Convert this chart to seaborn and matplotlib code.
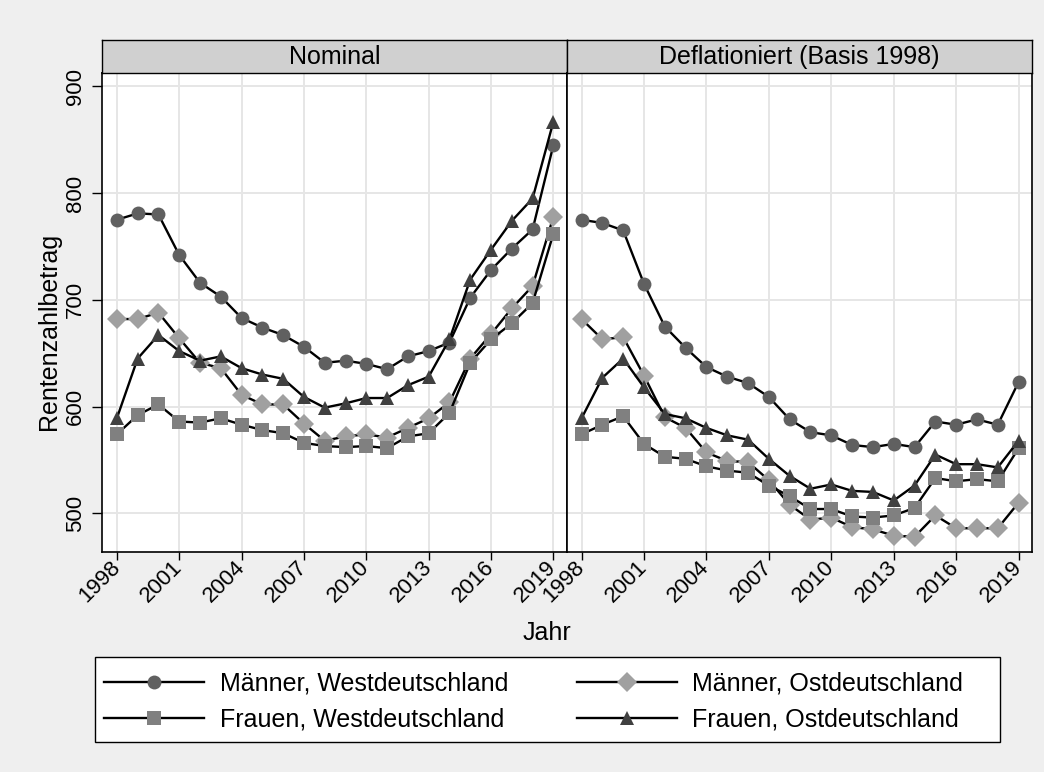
import matplotlib
matplotlib.use("Agg")
import matplotlib.pyplot as plt
import numpy as np
import pandas as pd
import seaborn as sns
from matplotlib.lines import Line2D
from matplotlib.patches import Rectangle

# ---- data -------------------------------------------------------------
years = list(range(1998, 2020))
panels = ["Nominal", "Deflationiert (Basis 1998)"]
groups = ["Männer, Westdeutschland", "Männer, Ostdeutschland",
          "Frauen, Westdeutschland", "Frauen, Ostdeutschland"]

nom_m_west = [775, 781, 780, 742, 716, 703, 683, 674, 667, 656, 641,
              643, 640, 635, 647, 652, 660, 702, 728, 748, 766, 845]
nom_m_east = [682, 682, 688, 664, 641, 636, 611, 602, 602, 584, 568,
              572, 574, 571, 580, 589, 604, 645, 668, 692, 713, 778]
nom_f_west = [574, 592, 602, 586, 585, 589, 583, 578, 575, 566, 563,
              562, 563, 561, 572, 575, 594, 641, 663, 678, 697, 762]
nom_f_east = [589, 645, 667, 652, 643, 647, 636, 630, 626, 609, 599,
              603, 608, 608, 620, 628, 663, 719, 747, 774, 795, 867]

def_m_west = [775, 772, 765, 715, 675, 655, 637, 628, 622, 609, 588,
              576, 573, 564, 562, 565, 562, 586, 583, 588, 583, 623]
def_m_east = [682, 663, 665, 629, 590, 580, 557, 549, 548, 531, 508,
              494, 496, 487, 485, 479, 478, 498, 486, 486, 486, 510]
def_f_west = [574, 583, 591, 565, 553, 551, 544, 540, 538, 526, 516,
              504, 504, 497, 496, 498, 505, 533, 530, 532, 530, 561]
def_f_east = [589, 627, 645, 618, 593, 589, 580, 573, 569, 551, 535,
              523, 527, 521, 520, 512, 526, 555, 546, 546, 543, 568]

x_ticks = [1998, 2001, 2004, 2007, 2010, 2013, 2016, 2019]
y_ticks = [500, 600, 700, 800, 900]

series = {
    panels[0]: [nom_m_west, nom_m_east, nom_f_west, nom_f_east],
    panels[1]: [def_m_west, def_m_east, def_f_west, def_f_east],
}
rows = []
for panel, vals in series.items():
    for grp, v in zip(groups, vals):
        for yr, val in zip(years, v):
            rows.append({"Jahr": yr, "Rentenzahlbetrag": val,
                         "Gruppe": grp, "Art": panel})
df = pd.DataFrame(rows)

# ---- styling ----------------------------------------------------------
plt.rcParams["font.family"] = ["Liberation Sans", "DejaVu Sans"]
styles = {
    groups[0]: dict(marker="o", mfc="#606060", ms=10.0),
    groups[1]: dict(marker="D", mfc="#a0a0a0", ms=10.3),
    groups[2]: dict(marker="s", mfc="#808080", ms=10.4),
    groups[3]: dict(marker="^", mfc="#404040", ms=10.6),
}

W, H = 1044, 772
fig = plt.figure(figsize=(W / 100, H / 100), dpi=100, facecolor="#efefef")


def fx(px):
    return px / W


def fy(py):
    return 1 - py / H


plot_top, plot_bot = 72.5, 551.5
lefts = [(102.3, 566.5), (567.0, 1031.7)]
strip_top = 39.5

for i, panel in enumerate(panels):
    x0, x1 = lefts[i]
    ax = fig.add_axes([fx(x0), fy(plot_bot), fx(x1 - x0),
                       (plot_bot - plot_top) / H])
    ax.set_facecolor("white")
    sub = df[df["Art"] == panel]
    for grp in groups:
        st = styles[grp]
        sns.lineplot(data=sub[sub["Gruppe"] == grp], x="Jahr",
                     y="Rentenzahlbetrag", ax=ax, color="black",
                     linewidth=1.7, marker=st["marker"],
                     markerfacecolor=st["mfc"], markeredgecolor=st["mfc"],
                     markeredgewidth=0, markersize=st["ms"], legend=False)
    ax.set_xlim(1997.3, 2019.63)
    ax.set_ylim(464.2, 913.0)
    ax.set_xticks(x_ticks)
    ax.set_xticklabels([str(t) for t in x_ticks])
    ax.set_yticks(y_ticks)
    ax.grid(True, color="#e6e6e6", linewidth=1.4)
    ax.set_axisbelow(True)
    ax.set_xlabel("")
    ax.set_ylabel("")
    for sp in ax.spines.values():
        sp.set_color("black")
        sp.set_linewidth(1.2)
    ax.tick_params(axis="x", length=6, width=1, pad=3, labelsize=16,
                   color="black")
    for lab in ax.get_xticklabels():
        lab.set_rotation(45)
        lab.set_ha("right")
        lab.set_va("center")
        lab.set_rotation_mode("anchor")
    if i == 0:
        ax.tick_params(axis="y", length=7, width=1, pad=5, labelsize=16,
                       color="black")
        for lab in ax.get_yticklabels():
            lab.set_rotation(90)
            lab.set_va("center")
    else:
        ax.tick_params(axis="y", length=0, labelleft=False)

    # panel header strip
    sax = fig.add_axes([fx(x0), fy(plot_top), fx(x1 - x0),
                        (plot_top - strip_top) / H])
    sax.set_facecolor("#d0d0d0")
    sax.set_xticks([])
    sax.set_yticks([])
    for sp in sax.spines.values():
        sp.set_color("black")
        sp.set_linewidth(1.0)
    sax.text(0.5, 0.47, panel, ha="center", va="center", fontsize=18,
             transform=sax.transAxes)

fig.text(fx(547), fy(633), "Jahr", ha="center", va="center", fontsize=18)
fig.text(fx(49.5), fy(331), "Rentenzahlbetrag", ha="center", va="center",
         rotation=90, fontsize=18)

# legend box
fig.patches.append(Rectangle((fx(95), fy(742)), fx(1000) - fx(95),
                             (742 - 657) / H, transform=fig.transFigure,
                             facecolor="white", edgecolor="black",
                             linewidth=1.0, zorder=1))
handles = []
for grp in [groups[0], groups[2], groups[1], groups[3]]:
    st = styles[grp]
    handles.append(Line2D([], [], color="black", linewidth=1.7,
                          marker=st["marker"], markerfacecolor=st["mfc"],
                          markeredgecolor=st["mfc"], markeredgewidth=0,
                          markersize=st["ms"], label=grp))
leg = fig.legend(handles=handles, ncol=2, loc="upper left",
                 bbox_to_anchor=(fx(104), fy(672)),
                 fontsize=18, frameon=False,
                 handlelength=4.0, handletextpad=0.62, labelspacing=0.45,
                 columnspacing=2.75, borderpad=0, borderaxespad=0)
leg.set_zorder(2)

fig.savefig("out.png", dpi=100, facecolor=fig.get_facecolor())
